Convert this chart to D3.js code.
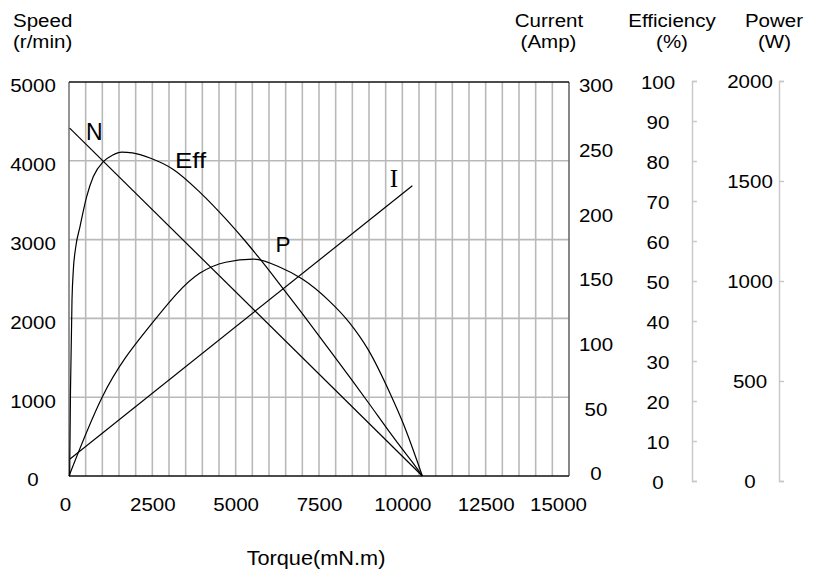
<!DOCTYPE html>
<html><head><meta charset="utf-8">
<script src="https://cdn.jsdelivr.net/npm/d3@7"></script>
<style>
body{margin:0;background:#fff}
svg text{font-family:"Liberation Sans",Arial,Helvetica,sans-serif;fill:#000}
</style>
</head><body>
<svg id="c" width="813" height="572"></svg>
<script>
// ---- data ----
const torqueTicks  = [0, 2500, 5000, 7500, 10000, 12500, 15000];
const speedTicks   = [0, 1000, 2000, 3000, 4000, 5000];
const currentTicks = [0, 50, 100, 150, 200, 250, 300];
const effTicks     = [0, 10, 20, 30, 40, 50, 60, 70, 80, 90, 100];
const powerTicks   = [0, 500, 1000, 1500, 2000];

// [torque mN.m, speed r/min]
const speedData = [[20, 4415], [10600, 0]];
// [torque mN.m, current A]
const currentData = [[30, 13], [10300, 221]];
// [torque mN.m, efficiency %]
const effData = [[20, 0], [45, 22], [90, 44.7], [130, 52.3], [200, 58], [330, 63.3], [530, 70.9],
  [730, 76], [1030, 79.8], [1300, 81.4], [1580, 82.2], [1900, 82.0], [2430, 80.7], [3130, 77.8],
  [3930, 72.0], [4730, 65.0], [5330, 59.2], [5680, 55.6], [6330, 48.6], [7000, 41.2], [7780, 32.4],
  [8500, 24.2], [9000, 18.4], [9630, 11.0], [10000, 6.8], [10300, 3.5], [10600, 0]];
// [torque mN.m, power W]
const powerData = [[0, 0], [980, 395], [2530, 783], [3930, 1030], [4700, 1085], [5530, 1101],
  [6330, 1060], [7000, 1000], [7780, 893], [8430, 775], [8980, 640], [9630, 420], [10030, 265], [10600, 0]];

// ---- layout ----
const L = 69, R = 569, T = 82, B = 476;
const SX = 1.08; // horizontal text stretch seen in reference
const svg = d3.select("#c");

const x = d3.scaleLinear([0, 15000], [L, R]);
const ySpeed = d3.scaleLinear([0, 5000], [B, T]);
const yCur = d3.scaleLinear([0, 300], [B, T]);
const yEff = d3.scaleLinear([0, 100], [B, T]);
const yPow = d3.scaleLinear([0, 2000], [B, T]);
// axis label placement scales for the side axes
const curAxis = d3.scaleLinear([0, 300], [473, 85]);
const effAxis = d3.scaleLinear([0, 100], [481, 81]);
const powAxis = d3.scaleLinear([0, 2000], [481, 81]);

// gridlines
const grid = svg.append("g").attr("stroke", "#b9b9b9").attr("stroke-width", 1.6);
grid.selectAll("line.v").data(d3.range(500, 15000, 500)).join("line")
  .attr("x1", d => x(d)).attr("x2", d => x(d)).attr("y1", T).attr("y2", B);
grid.selectAll("line.h").data(speedTicks.filter(d => d > 0 && d < 5000)).join("line")
  .attr("x1", L).attr("x2", R).attr("y1", d => ySpeed(d)).attr("y2", d => ySpeed(d));

// frame
const fr = svg.append("g").attr("stroke-width", 1.6).attr("fill", "none");
fr.append("line").attr("x1", L).attr("x2", L).attr("y1", T).attr("y2", B).attr("stroke", "#7a7a7a");
fr.append("line").attr("x1", R).attr("x2", R).attr("y1", T).attr("y2", B).attr("stroke", "#6a6a6a");
fr.append("line").attr("x1", L).attr("x2", R).attr("y1", T).attr("y2", T).attr("stroke", "#111");
fr.append("line").attr("x1", L).attr("x2", R).attr("y1", B).attr("y2", B).attr("stroke", "#111");

// curves
const curves = svg.append("g").attr("fill", "none").attr("stroke", "#000").attr("stroke-width", 1.2);
curves.append("path").attr("d", d3.line().x(d => x(d[0])).y(d => ySpeed(d[1]))(speedData));
curves.append("path").attr("d", d3.line().x(d => x(d[0])).y(d => yCur(d[1]))(currentData));
curves.append("path").attr("d", d3.line().x(d => x(d[0])).y(d => yEff(d[1])).curve(d3.curveMonotoneX)(effData));
curves.append("path").attr("d", d3.line().x(d => x(d[0])).y(d => yPow(d[1])).curve(d3.curveMonotoneX)(powerData));

// helper to style axis text
function styleAxis(g, opts) {
  g.attr("font-family", null).attr("font-size", null).attr("fill", null);
  g.select(".domain").attr("fill", "none");
  g.selectAll("text")
    .attr("font-size", opts.size || 19)
    .attr("text-anchor", "middle")
    .attr("fill", "#000")
    .attr("x", 0)
    .attr("y", 0)
    .attr("dy", opts.dy || null)
    .attr("transform", d => `translate(${opts.dx + (opts.nudge ? (opts.nudge[d] || 0) : 0)},${opts.dy2 || 0}) scale(${SX},1)`);
}

// left speed axis
const gS = svg.append("g").attr("transform", `translate(${L},0)`)
  .call(d3.axisLeft(ySpeed).tickValues(speedTicks).tickSize(0).tickFormat(d3.format("d")));
gS.select(".domain").remove();
styleAxis(gS, {dx: 33 - L, dy: "0.36em", dy2: 3});

// bottom torque axis
const gX = svg.append("g").attr("transform", `translate(0,${B})`)
  .call(d3.axisBottom(x).tickValues(torqueTicks).tickSize(0).tickFormat(d3.format("d")));
gX.select(".domain").remove();
styleAxis(gX, {dx: 0, dy: null, dy2: 35, nudge: {0: -4, 15000: -11}});

// right current axis
const gC = svg.append("g").attr("transform", `translate(596,0)`)
  .call(d3.axisRight(curAxis).tickValues(currentTicks).tickSize(0).tickFormat(d3.format("d")));
gC.select(".domain").remove();
styleAxis(gC, {dx: 0, dy: "0.36em", dy2: 0});

// efficiency axis
const gE = svg.append("g").attr("transform", `translate(692,0)`)
  .call(d3.axisRight(effAxis).tickValues(effTicks).tickSize(5).tickFormat(d3.format("d")));
styleAxis(gE, {dx: 658 - 692, dy: "0.36em", dy2: 1});
gE.selectAll(".domain,line").attr("stroke", "#c8c8c8").attr("stroke-width", 1.4).attr("fill", "none");

// power axis
const gP = svg.append("g").attr("transform", `translate(779,0)`)
  .call(d3.axisRight(powAxis).tickValues(powerTicks).tickSize(5).tickFormat(d3.format("d")));
styleAxis(gP, {dx: 750 - 779, dy: "0.36em", dy2: 0});
gP.selectAll(".domain,line").attr("stroke", "#c8c8c8").attr("stroke-width", 1.4).attr("fill", "none");

// titles
function label(txt, cx, y, size, anchor, sx) {
  svg.append("text").text(txt)
    .attr("font-size", size).attr("text-anchor", anchor)
    .attr("transform", `translate(${cx},${y}) scale(${sx},1)`);
}
label("Speed", 13, 26.5, 19, "start", SX);
label("(r/min)", 13, 48.3, 19, "start", SX);
label("Current", 549, 27, 19, "middle", SX);
label("(Amp)", 548.5, 48.3, 19, "middle", SX);
label("Efficiency", 672, 27, 19, "middle", SX);
label("(%)", 672, 48.3, 19, "middle", SX);
label("Power", 774, 27, 19, "middle", SX);
label("(W)", 774.5, 48.3, 19, "middle", SX);
label("Torque(mN.m)", 316, 565, 20.5, "middle", 1.06);

// curve labels
svg.append("text").text("N").attr("font-size", 23).attr("transform", `translate(86,140)`);
svg.append("text").text("Eff").attr("font-size", 22).attr("transform", `translate(175,167.5) scale(1.18,1)`);
svg.append("text").text("P").attr("font-size", 22.5).attr("transform", `translate(275.5,252)`);
svg.append("text").text("I").attr("font-size", 25).attr("text-anchor", "middle")
  .style("font-family", "'Liberation Serif','Times New Roman',serif")
  .attr("transform", `translate(394,187)`);
</script>
</body></html>
